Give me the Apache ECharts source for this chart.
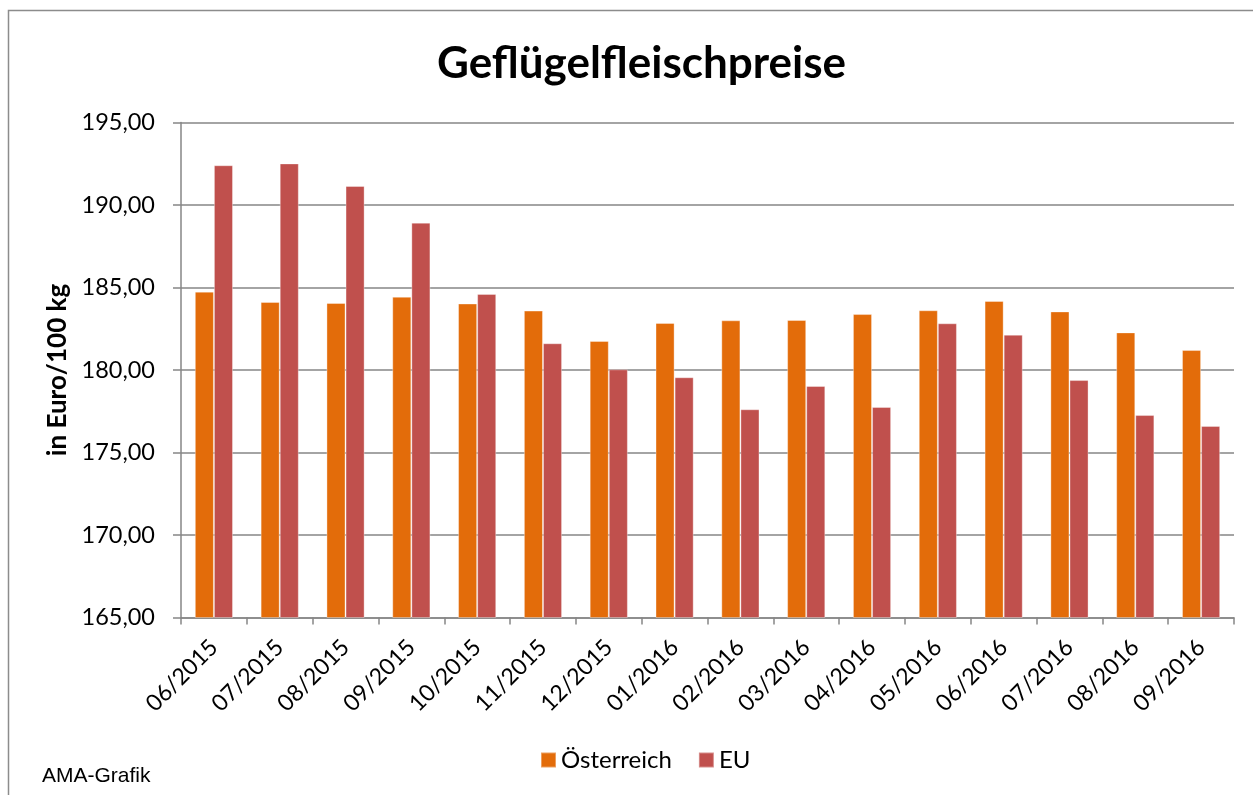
<!DOCTYPE html>
<html>
<head>
<meta charset="utf-8">
<script src="https://cdn.jsdelivr.net/npm/echarts@6/dist/echarts.min.js"></script>
<style>
html, body { margin: 0; padding: 0; background: #fff; }
#chart { width: 1253px; height: 795px; }
</style>
</head>
<body>
<div id="chart"></div>
<script>
var months = ['06/2015', '07/2015', '08/2015', '09/2015', '10/2015', '11/2015', '12/2015', '01/2016',
	'02/2016', '03/2016', '04/2016', '05/2016', '06/2016', '07/2016', '08/2016', '09/2016'];
var oesterreich = [184.75, 184.12, 184.06, 184.44, 184.03, 183.60, 181.76, 182.85,
	183.01, 183.03, 183.39, 183.62, 184.18, 183.55, 182.28, 181.21];
var eu = [192.41, 192.52, 191.15, 188.93, 184.61, 181.62, 180.04, 179.56,
	177.62, 179.03, 177.76, 182.83, 182.14, 179.39, 177.27, 176.61];

var labelFont = 'Lato, "Open Sans", sans-serif';
var gray = '#868686';

var mainChart = echarts.init(document.getElementById('chart'));

mainChart.setOption({
	animation: false,
	title: {
		text: 'Geflügelfleischpreise',
		left: 432,
		top: 37,
		textStyle: {
			fontFamily: labelFont,
			fontWeight: 'bold',
			fontSize: 44,
			color: '#000'
		}
	},
	graphic: [{
		type: 'rect',
		shape: { x: 8.5, y: 10.5, width: 1400, height: 900 },
		style: { fill: null, stroke: '#8c8c8c', lineWidth: 1.5 }
	}, {
		type: 'text',
		left: 42,
		top: 766,
		style: {
			text: 'AMA-Grafik',
			font: '21px "Liberation Sans", Arial, sans-serif',
			fill: '#000'
		}
	}],
	legend: {
		bottom: 18,
		left: 535,
		icon: 'rect',
		itemWidth: 15,
		itemHeight: 15,
		itemGap: 26,
		textStyle: {
			fontFamily: labelFont,
			fontSize: 24,
			color: '#000'
		},
		data: ['Österreich', 'EU']
	},
	grid: {
		left: 181,
		right: 19,
		top: 122.5,
		bottom: 177.5
	},
	xAxis: {
		type: 'category',
		data: months,
		axisLine: { lineStyle: { color: gray, width: 1.5 } },
		axisTick: { show: true, length: 7, lineStyle: { color: gray, width: 1.5 } },
		axisLabel: {
			rotate: 45,
			margin: 26,
			fontFamily: labelFont,
			fontSize: 23,
			color: '#000'
		}
	},
	yAxis: {
		type: 'value',
		min: 165,
		max: 195,
		interval: 5,
		name: 'in Euro/100 kg',
		nameLocation: 'middle',
		nameGap: 109,
		nameTextStyle: {
			fontFamily: labelFont,
			fontWeight: 'bold',
			fontSize: 26,
			color: '#000'
		},
		axisLine: { show: true, lineStyle: { color: gray, width: 1.5 } },
		axisTick: { show: true, length: 8, lineStyle: { color: gray, width: 1.5 } },
		axisLabel: {
			margin: 26,
			fontFamily: labelFont,
			fontSize: 23.5,
			color: '#000',
			formatter: function (val) {
				return val.toFixed(2).replace('.', ',');
			}
		},
		splitLine: { lineStyle: { color: gray, width: 1.5 } }
	},
	series: [{
		name: 'Österreich',
		type: 'bar',
		data: oesterreich,
		barGap: '0%',
		barCategoryGap: '42%',
		itemStyle: { color: '#E36C0A', borderColor: 'rgba(255,255,255,0.35)', borderWidth: 1 }
	}, {
		name: 'EU',
		type: 'bar',
		data: eu,
		itemStyle: { color: '#C0504D', borderColor: 'rgba(255,255,255,0.35)', borderWidth: 1 }
	}]
});
</script>
</body>
</html>
